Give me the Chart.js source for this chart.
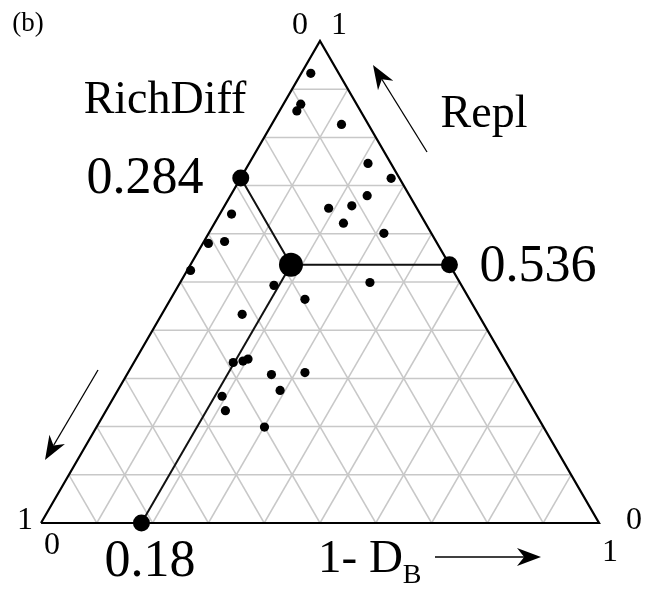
<!DOCTYPE html>
<html>
<head>
<meta charset="utf-8">
<script src="https://cdn.jsdelivr.net/npm/chart.js@4/dist/chart.umd.min.js"></script>
<style>
  html, body { margin: 0; padding: 0; background: #fff; }
  #wrap { width: 645px; height: 592px; }
</style>
</head>
<body>
<div id="wrap"><canvas id="ternary" width="645" height="592"></canvas></div>
<script>
// ternary compositions of the sites (Repl + RichDiff + 1-D_B = 1)
const replValues = [0.933, 0.869, 0.855, 0.827, 0.746, 0.715, 0.679, 0.658, 0.653, 0.622,
  0.601, 0.641, 0.580, 0.584, 0.524, 0.493, 0.464, 0.499, 0.433, 0.333,
  0.336, 0.340, 0.308, 0.312, 0.275, 0.263, 0.233, 0.199];
const richDiffValues = [0.050, 0.100, 0.114, 0.048, 0.041, 0.015, 0.076, 0.114, 0.158, 0.147,
  0.085, 0.338, 0.410, 0.379, 0.470, 0.336, 0.295, 0.161, 0.423, 0.489,
  0.470, 0.459, 0.433, 0.371, 0.434, 0.544, 0.553, 0.500];
const dbValues = replValues.map((r, i) => 1 - r - richDiffValues[i]);

// mean position
const meanRepl = 0.536;
const meanRichDiff = 0.284;
const meanDB = 0.18;

const gridSteps = [0.1, 0.2, 0.3, 0.4, 0.5, 0.6, 0.7, 0.8, 0.9];

const H = Math.sqrt(3) / 2;
function toXY(repl, rich, db) {
  return { x: db + repl * 0.5, y: repl * H };
}

function segment(pts, color, width, order) {
  return {
    data: pts,
    showLine: true,
    borderColor: color,
    borderWidth: width,
    pointRadius: 0,
    clip: false,
    order: order
  };
}

// grid lines, one dataset per line
const gridSets = [];
gridSteps.forEach(k => {
  gridSets.push(segment([toXY(k, 0, 1 - k), toXY(k, 1 - k, 0)], '#c8c8c8', 1.5, 5));
  gridSets.push(segment([toXY(0, k, 1 - k), toXY(1 - k, k, 0)], '#c8c8c8', 1.5, 5));
  gridSets.push(segment([toXY(0, 1 - k, k), toXY(1 - k, 0, k)], '#c8c8c8', 1.5, 5));
});

const outline = [toXY(0, 1, 0), toXY(0, 0, 1), toXY(1, 0, 0), toXY(0, 1, 0)];

const meanPt = toXY(meanRepl, meanRichDiff, meanDB);
const edgePts = [
  toXY(1 - meanRichDiff, meanRichDiff, 0),
  toXY(meanRepl, 0, 1 - meanRepl),
  toXY(0, 1 - meanDB, meanDB)
];

const sitePts = replValues.map((r, i) => toXY(r, richDiffValues[i], dbValues[i]));

const serif = '"Liberation Serif", "DejaVu Serif", serif';

function arrow(ctx, x1, y1, x2, y2) {
  const ang = Math.atan2(y2 - y1, x2 - x1);
  const c = Math.cos(ang), s = Math.sin(ang);
  const len = 24, wid = 9;
  ctx.beginPath();
  ctx.moveTo(x1, y1);
  ctx.lineTo(x2 - c * len * 0.7, y2 - s * len * 0.7);
  ctx.stroke();
  ctx.beginPath();
  ctx.moveTo(x2, y2);
  ctx.lineTo(x2 - c * len - s * wid, y2 - s * len + c * wid);
  ctx.lineTo(x2 - c * len * 0.7, y2 - s * len * 0.7);
  ctx.lineTo(x2 - c * len + s * wid, y2 - s * len - c * wid);
  ctx.closePath();
  ctx.fill();
}

const labelsPlugin = {
  id: 'labels',
  afterDraw(chart) {
    const ctx = chart.ctx;
    ctx.save();
    ctx.fillStyle = '#000';
    ctx.strokeStyle = '#000';
    ctx.textAlign = 'center';
    ctx.textBaseline = 'middle';

    ctx.font = '27px ' + serif;
    ctx.fillText('(b)', 28, 24);

    ctx.font = '32px ' + serif;
    ctx.fillText('0', 300, 26);
    ctx.fillText('1', 339, 26);
    ctx.fillText('1', 25, 521);
    ctx.fillText('0', 52, 546);
    ctx.fillText('0', 634, 521);
    ctx.fillText('1', 610, 553);

    ctx.font = '46px ' + serif;
    ctx.fillText('RichDiff', 165, 101);
    ctx.fillText('Repl', 484, 115);

    ctx.font = '52px ' + serif;
    ctx.fillText('0.284', 145, 179);
    ctx.fillText('0.536', 538, 267);
    ctx.fillText('0.18', 150, 562);

    ctx.font = '47px ' + serif;
    ctx.textAlign = 'left';
    ctx.fillText('1- D', 318, 560);
    const w = ctx.measureText('1- D').width;
    ctx.font = '28px ' + serif;
    ctx.fillText('B', 318 + w, 576);

    ctx.lineWidth = 1.3;
    arrow(ctx, 427, 152, 373, 65);
    arrow(ctx, 98, 370, 45, 460);
    arrow(ctx, 435, 557, 541, 557);
    ctx.restore();
  }
};

new Chart(document.getElementById('ternary'), {
  type: 'scatter',
  data: {
    datasets: [
      { data: [meanPt], pointRadius: 12, backgroundColor: '#000', borderWidth: 0, clip: false, order: 0 },
      { data: edgePts, pointRadius: 8.5, backgroundColor: '#000', borderWidth: 0, clip: false, order: 1 },
      { data: sitePts, pointRadius: 4.6, backgroundColor: '#000', borderWidth: 0, clip: false, order: 2 },
      segment([edgePts[0], meanPt, edgePts[1]], '#111', 2, 3),
      segment([meanPt, edgePts[2]], '#111', 2, 3),
      segment(outline, '#000', 2.2, 4),
      ...gridSets
    ]
  },
  options: {
    responsive: false,
    animation: false,
    layout: { padding: { left: 41, right: 46, top: 41, bottom: 69 } },
    scales: {
      x: { type: 'linear', min: 0, max: 1, display: false },
      y: { type: 'linear', min: 0, max: H, display: false }
    },
    plugins: { legend: { display: false }, tooltip: { enabled: false } }
  },
  plugins: [labelsPlugin]
});
</script>
</body>
</html>
